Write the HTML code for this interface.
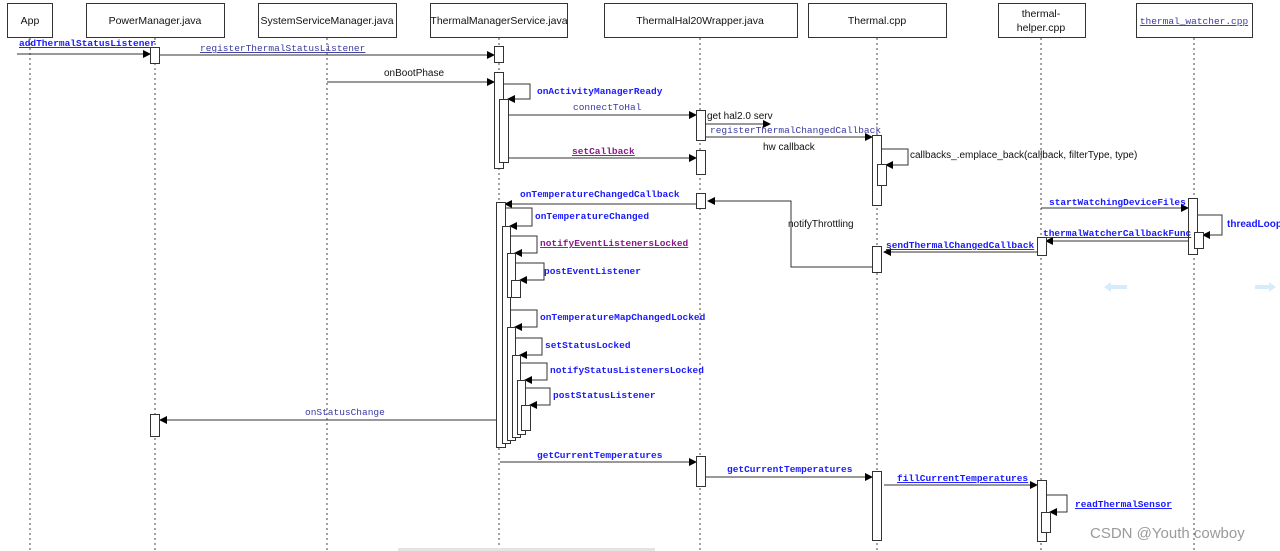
<!DOCTYPE html>
<html><head><meta charset="utf-8"><style>
html,body{margin:0;padding:0;background:#fff;}
svg{display:block;}
.h{font-family:"Liberation Sans",sans-serif;font-size:10.5px;fill:#111;}
.b{font-family:"Liberation Mono",monospace;font-size:9.5px;font-weight:bold;fill:#1a1aff;}
.g{font-family:"Liberation Mono",monospace;font-size:9.5px;fill:#3a3aa0;}
.p{font-family:"Liberation Mono",monospace;font-size:9.5px;font-weight:bold;fill:#8a1a8a;}
.s{font-family:"Liberation Sans",sans-serif;font-size:10px;fill:#111;}
</style></head><body>
<svg width="1280" height="551" viewBox="0 0 1280 551" xmlns="http://www.w3.org/2000/svg">
<defs><marker id="a" markerWidth="8" markerHeight="8" refX="7" refY="4" orient="auto" markerUnits="userSpaceOnUse"><path d="M0,0 L8,4 L0,8 z" fill="#000"/></marker></defs>
<g stroke="#444" stroke-width="1" stroke-dasharray="2,3">
<line x1="30" y1="38" x2="30" y2="551"/><line x1="155" y1="38" x2="155" y2="551"/>
<line x1="327" y1="38" x2="327" y2="551"/><line x1="499" y1="38" x2="499" y2="551"/>
<line x1="700" y1="38" x2="700" y2="551"/><line x1="877" y1="38" x2="877" y2="551"/>
<line x1="1041" y1="38" x2="1041" y2="551"/><line x1="1194" y1="38" x2="1194" y2="551"/>
</g>
<g fill="#fff" stroke="#333" stroke-width="1">
<rect x="7.5" y="3.5" width="45" height="34"/><rect x="86.5" y="3.5" width="138" height="34"/>
<rect x="258.5" y="3.5" width="138" height="34"/><rect x="430.5" y="3.5" width="137" height="34"/>
<rect x="604.5" y="3.5" width="193" height="34"/><rect x="808.5" y="3.5" width="138" height="34"/>
<rect x="998.5" y="3.5" width="87" height="34"/><rect x="1136.5" y="3.5" width="116" height="34"/>
</g>
<text class="h" x="30" y="24" text-anchor="middle">App</text>
<text class="h" x="155" y="24" text-anchor="middle">PowerManager.java</text>
<text class="h" x="327" y="24" text-anchor="middle">SystemServiceManager.java</text>
<text class="h" x="499" y="24" text-anchor="middle">ThermalManagerService.java</text>
<text class="h" x="700" y="24" text-anchor="middle">ThermalHal20Wrapper.java</text>
<text class="h" x="877" y="24" text-anchor="middle">Thermal.cpp</text>
<text class="h" x="1041" y="17" text-anchor="middle">thermal-</text>
<text class="h" x="1041" y="31" text-anchor="middle">helper.cpp</text>
<text class="g" x="1194" y="24" text-anchor="middle" text-decoration="underline">thermal_watcher.cpp</text>

<g stroke="#333" stroke-width="1" fill="none" marker-end="url(#a)">
<line x1="17" y1="54" x2="150" y2="54"/>
<line x1="160" y1="55" x2="494" y2="55"/>
<line x1="327" y1="82" x2="494" y2="82"/>
<polyline points="503,84 530,84 530,99 508,99"/>
<line x1="508" y1="115" x2="696" y2="115"/>
<line x1="705" y1="124" x2="770" y2="124"/>
<line x1="705" y1="137" x2="872" y2="137"/>
<polyline points="881,149 908,149 908,165 886,165"/>
<line x1="508" y1="158" x2="696" y2="158"/>
<line x1="696" y1="204" x2="505" y2="204"/>
<polyline points="872,267 791,267 791,201 708,201"/>
<polyline points="505,208 532,208 532,226 510,226"/>
<polyline points="510,236 537,236 537,253 515,253"/>
<polyline points="515,263 544,263 544,280 520,280"/>
<polyline points="510,310 537,310 537,327 515,327"/>
<polyline points="515,338 542,338 542,355 520,355"/>
<polyline points="520,363 547,363 547,380 525,380"/>
<polyline points="525,388 550,388 550,405 530,405"/>
<line x1="530" y1="420" x2="160" y2="420"/>
<line x1="500" y1="462" x2="696" y2="462"/>
<line x1="705" y1="477" x2="872" y2="477"/>
<line x1="884" y1="485" x2="1037" y2="485"/>
<polyline points="1046,495 1067,495 1067,512 1050,512"/>
<line x1="1041" y1="208" x2="1188" y2="208"/>
<polyline points="1197,215 1222,215 1222,235 1203,235"/>
<line x1="1188" y1="241" x2="1046" y2="241"/>
<line x1="1037" y1="252" x2="884" y2="252"/>
</g>

<g fill="#fff" stroke="#333" stroke-width="1">
<rect x="150.5" y="47.5" width="9" height="16"/>
<rect x="494.5" y="46.5" width="9" height="16"/>
<rect x="494.5" y="72.5" width="9" height="96"/>
<rect x="499.5" y="99.5" width="9" height="63"/>
<rect x="696.5" y="110.5" width="9" height="30"/>
<rect x="872.5" y="135.5" width="9" height="70"/>
<rect x="877.5" y="164.5" width="9" height="21"/>
<rect x="696.5" y="150.5" width="9" height="24"/>
<rect x="696.5" y="193.5" width="9" height="15"/>
<rect x="496.5" y="202.5" width="9" height="245"/>
<rect x="502.5" y="226.5" width="8" height="217"/>
<rect x="507.5" y="253.5" width="8" height="44"/>
<rect x="511.5" y="280.5" width="9" height="17"/>
<rect x="507.5" y="327.5" width="8" height="113"/>
<rect x="512.5" y="355.5" width="8" height="82"/>
<rect x="517.5" y="380.5" width="8" height="54"/>
<rect x="521.5" y="405.5" width="9" height="25"/>
<rect x="150.5" y="414.5" width="9" height="22"/>
<rect x="696.5" y="456.5" width="9" height="30"/>
<rect x="872.5" y="471.5" width="9" height="69"/>
<rect x="1037.5" y="480.5" width="9" height="61"/>
<rect x="1041.5" y="512.5" width="9" height="20"/>
<rect x="1188.5" y="198.5" width="9" height="56"/>
<rect x="1194.5" y="232.5" width="9" height="16"/>
<rect x="1037.5" y="237.5" width="9" height="18"/>
<rect x="872.5" y="246.5" width="9" height="26"/>
</g>

<text class="b" x="19" y="46" text-decoration="underline">addThermalStatusListener</text>
<text class="g" x="200" y="51" text-decoration="underline">registerThermalStatusListener</text>
<text class="s" x="384" y="76">onBootPhase</text>
<text class="b" x="537" y="94">onActivityManagerReady</text>
<text class="g" x="573" y="110">connectToHal</text>
<text class="s" x="707" y="119">get hal2.0 serv</text>
<text class="g" x="710" y="133">registerThermalChangedCallback</text>
<text class="s" x="763" y="150">hw callback</text>
<text class="s" x="910" y="158">callbacks_.emplace_back(callback, filterType, type)</text>
<text class="p" x="572" y="154" text-decoration="underline">setCallback</text>
<text class="b" x="520" y="197">onTemperatureChangedCallback</text>
<text class="s" x="788" y="227">notifyThrottling</text>
<text class="b" x="535" y="219">onTemperatureChanged</text>
<text class="p" x="540" y="246" text-decoration="underline">notifyEventListenersLocked</text>
<text class="b" x="544" y="274">postEventListener</text>
<text class="b" x="540" y="320">onTemperatureMapChangedLocked</text>
<text class="b" x="545" y="348">setStatusLocked</text>
<text class="b" x="550" y="373">notifyStatusListenersLocked</text>
<text class="b" x="553" y="398">postStatusListener</text>
<text class="g" x="305" y="415">onStatusChange</text>
<text class="b" x="537" y="458">getCurrentTemperatures</text>
<text class="b" x="727" y="472">getCurrentTemperatures</text>
<text class="b" x="897" y="481" text-decoration="underline">fillCurrentTemperatures</text>
<text class="b" x="1075" y="507" text-decoration="underline">readThermalSensor</text>
<text class="b" x="1049" y="205">startWatchingDeviceFiles</text>
<text x="1227" y="227" style="font-family:'Liberation Sans',sans-serif;font-size:10px;font-weight:bold;fill:#1a1aff">threadLoop</text>
<text class="b" x="1043" y="236" text-decoration="underline">thermalWatcherCallbackFunc</text>
<text class="b" x="886" y="248" text-decoration="underline">sendThermalChangedCallback</text>

<path d="M1104,287 l7,-5 v3 h16 v4 h-16 v3 z" fill="#d6ecfa"/>
<path d="M1276,287 l-7,-5 v3 h-14 v4 h14 v3 z" fill="#d6ecfa"/>
<text x="1090" y="538" style="font-family:'Liberation Sans',sans-serif;font-size:15px;fill:#9a9a9a">CSDN @Youth cowboy</text>
<rect x="398" y="548" width="257" height="3" fill="#e4e4e4"/>
</svg>
</body></html>
